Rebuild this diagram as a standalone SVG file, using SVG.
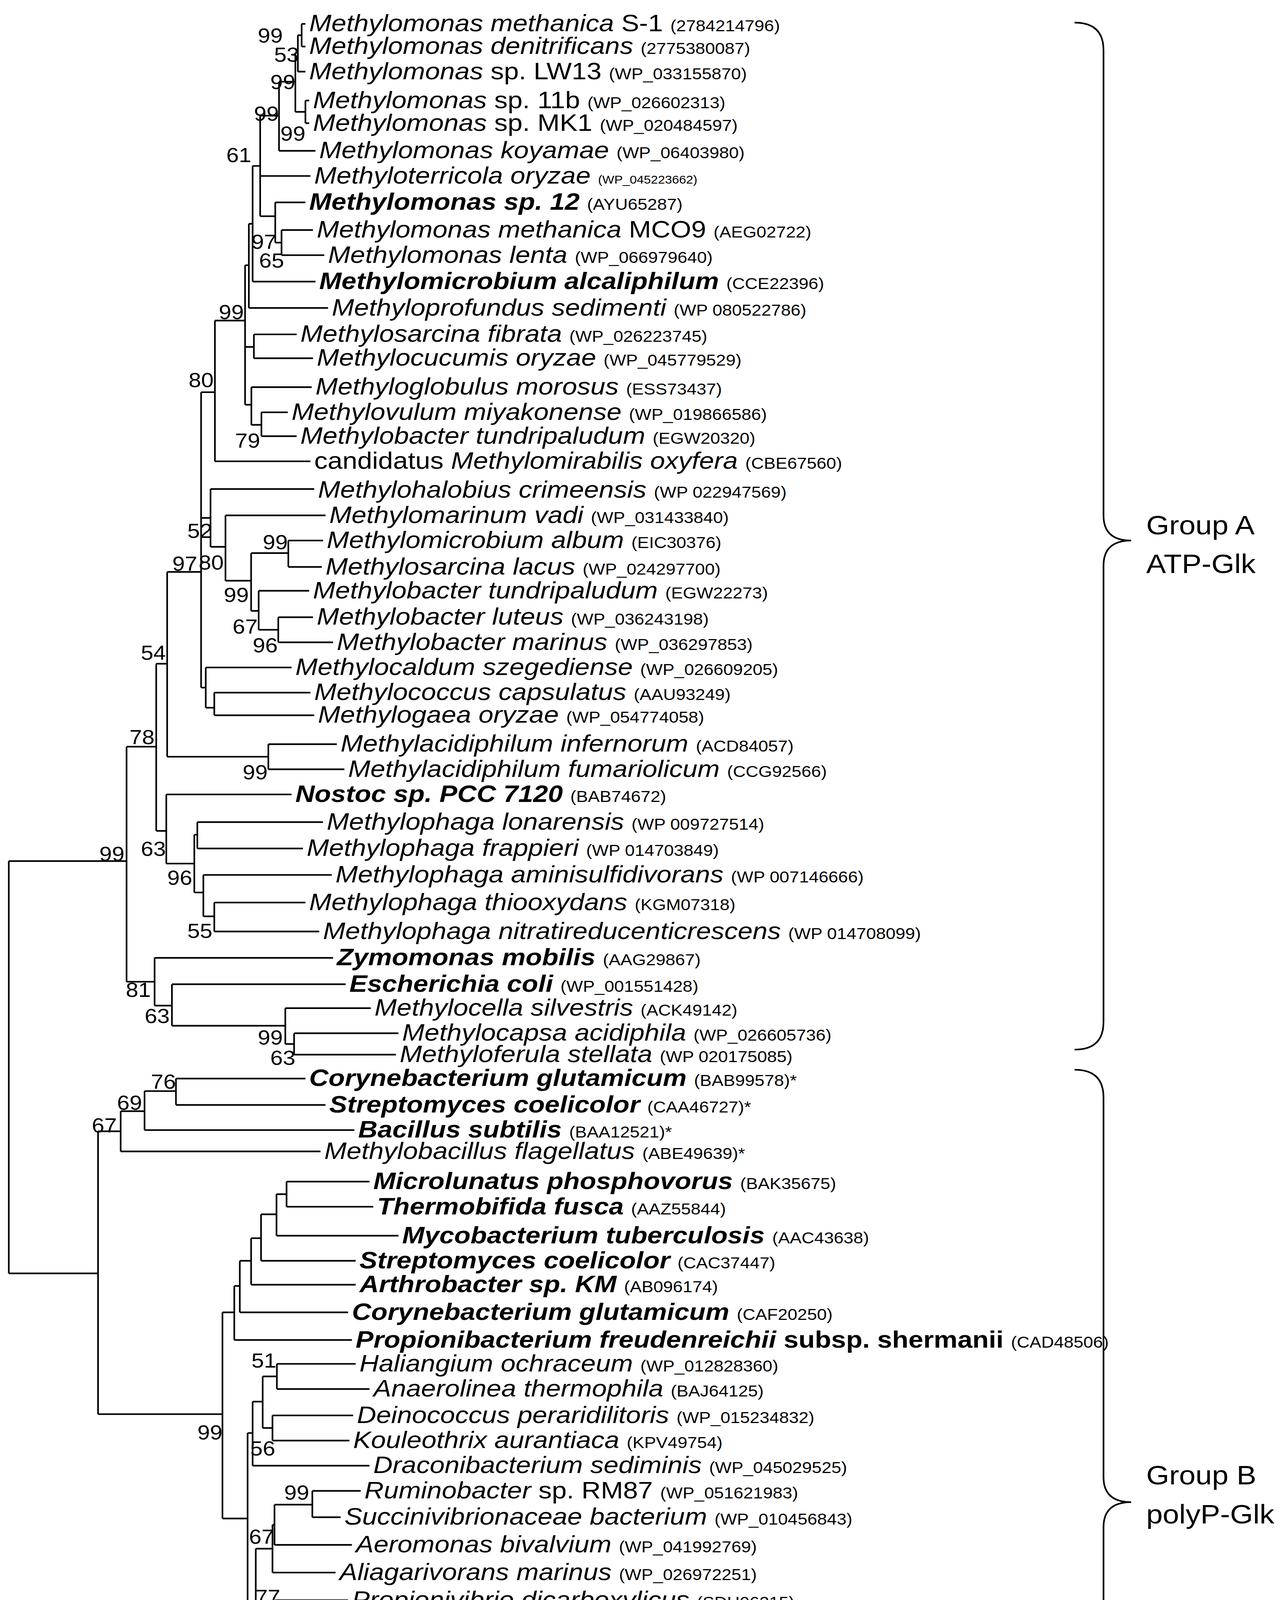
<svg xmlns="http://www.w3.org/2000/svg" width="3294" height="5046" viewBox="0 0 3294 5046">
<style>
text{font-family:"Liberation Sans",Arial,sans-serif;fill:#000;transform-box:fill-box;transform-origin:0% 50%;transform:scaleX(1.12)}
.t{font-size:19px}
.i{font-style:italic}
.bi{font-style:italic;font-weight:bold}
.a{font-size:12.5px;font-style:normal;font-weight:normal}
.bs{font-size:16px;text-anchor:end;transform-origin:100% 50%}
.g{font-size:21px}
.ln{fill:none;stroke:#000;stroke-width:1.3}
</style>
<rect width="3294" height="5046" fill="#fff"/>
<g transform="scale(3.2168,3.218)">
<g id="connectors" class="ln">
<path d="M240 19V37M240 19H243M240 37H243M237 28V57M237 28H240M237 57H243M243 80V98M243 80H246M243 98H246M235 42V89M235 42H237M235 89H243M222 65V120M222 65H235M222 120H251M207 92V172M207 92H222M207 140H247M207 172H219M219 161V193M219 161H243M219 193H224M224 183V203M224 183H249M224 203H258M201 132V224M201 132H207M201 224H251M198 178V245M198 178H201M198 245H261M195 211V322M195 211H198M195 276H202M195 322H200M202 266V285M202 266H236M202 285H249M200 308V338M200 308H248M200 338H208M208 328V347M208 328H229M208 347H236M171 255V367M171 255H195M171 367H247"/>
<path d="M160 312V547M160 312H171M167.5 389V435M167.5 389H250M167.5 435H179.4M160 412H167.5M179.4 410V462M179.4 410H259M179.4 462H199.8M199.8 440V486M199.8 440H229.4M199.8 486H205.8M229.4 430V451M229.4 430H257M229.4 451H256M205.8 470V501M205.8 470H246M205.8 501H221.4M221.4 491V511M221.4 491H249M221.4 511H265M163.7 531V563M163.7 531H232M163.7 563H170.5M160 547H163.7M170.5 551V569M170.5 551H247M170.5 569H250"/>
<path d="M133 455V602M133 455H160M133 602H213.5M213.5 592V612M213.5 592H268M213.5 612H274M124.3 528V661M124.3 528H133M124.3 661H132.3M132.3 632V687M132.3 632H232M132.3 687H154.6M154.6 664V710M154.6 664H157M154.6 710H161.8M157 654V675M157 654H257M157 675H241M161.8 696V729M161.8 696H264M161.8 729H170.5M170.5 718V741M170.5 718H243M170.5 741H254M100.7 594V781M100.7 594H124.3M100.7 781H123M123 762V800M123 762H265M123 800H136.8M136.8 783V816M136.8 783H275M136.8 816H227M227 802V830.5M227 802H295M227 830.5H234M234 822V839M234 822H317M234 839H315M7 685V1013M7 685H100.7M7 1013H78"/>
<path d="M140 858V879M140 858H243M140 879H259M115 868V899M115 868H140M115 899H282M96 884V916M96 884H115M96 916H255M78 900V1125M78 900H96M78 1125H177M177 1044V1208M228 940V960M228 940H294M228 960H297M220 950V983M220 950H228M220 983H317M207.7 966V1003M207.7 966H220M207.7 1003H283M199.8 985V1022M199.8 985H207.7M199.8 1022H283M190.8 1003V1044M190.8 1003H199.8M190.8 1044H277M186.4 1023V1066M186.4 1023H190.8M186.4 1066H280M177 1044H186.4M177 1208H197"/>
<path d="M197 1140V1276M197 1140H201M197 1276H203.5M209 1095V1136M209 1095H220.3M209 1136H216.8M220.3 1085V1105M220.3 1085H283M220.3 1105H294M216.8 1126V1146M216.8 1126H281M216.8 1146H278M201 1115V1166M201 1115H209M201 1166H294M248.5 1186V1207M248.5 1186H287M248.5 1207H271M218.4 1197V1229M218.4 1197H248.5M218.4 1229H280M216.8 1213V1251M216.8 1213H218.4M216.8 1251H267M203.5 1232V1323M203.5 1232H216.8M203.5 1323H207M219 1273V1294M219 1273H277M219 1294H277M207 1283V1371M207 1283H219M207 1371H230M230 1315V1427M230 1315H259M230 1427H239M251.7 1342V1364M251.7 1342H274M251.7 1364H289M248 1353V1388M248 1353H251.7M248 1388H273M242.6 1370V1408M242.6 1370H248M242.6 1408H270M239 1389V1466M239 1389H242.6M239 1466H251.3M260.3 1431V1452M260.3 1431H265M260.3 1452H263M256 1494V1518M256 1494H260M256 1518H260M253.7 1473V1506M253.7 1473H265M253.7 1506H256M251.3 1441V1489M251.3 1441H260.3M251.3 1489H253.7"/>
<path d="M45 1539V1545H105V1539"/>
</g>
<g id="brackets" class="ln">
<path d="M855 18Q878 18 878 40V410Q878 430 900 430Q878 430 878 450V813Q878 835 855 835"/>
<path d="M855 851Q878 851 878 873V1175Q878 1195 900 1195Q878 1195 878 1215V1543Q878 1565 855 1565"/>
</g>
<g id="groups">
<text class="g" x="912" y="425">Group A</text>
<text class="g" x="912" y="456">ATP-Glk</text>
<text class="g" x="912" y="1181">Group B</text>
<text class="g" x="912" y="1212">polyP-Glk</text>
<text class="t" x="66" y="1563">0.2</text>
</g>
<g id="bootstrap">
<text class="bs" x="225" y="34">99</text><text class="bs" x="238" y="49">53</text><text class="bs" x="235" y="71">99</text><text class="bs" x="222" y="96">99</text><text class="bs" x="243" y="112">99</text><text class="bs" x="200" y="129">61</text><text class="bs" x="220" y="198">97</text><text class="bs" x="226" y="213">65</text><text class="bs" x="194" y="254">99</text><text class="bs" x="170" y="308">80</text><text class="bs" x="207" y="356">79</text><text class="bs" x="169" y="428">52</text><text class="bs" x="157" y="454">97</text><text class="bs" x="178" y="453">80</text><text class="bs" x="229" y="437">99</text><text class="bs" x="198" y="479">99</text><text class="bs" x="205" y="504">67</text><text class="bs" x="221" y="519">96</text><text class="bs" x="132" y="525">54</text><text class="bs" x="123" y="592">78</text><text class="bs" x="213" y="620">99</text><text class="bs" x="132" y="681">63</text><text class="bs" x="99" y="685">99</text><text class="bs" x="153" y="704">96</text><text class="bs" x="169" y="746">55</text><text class="bs" x="120" y="793">81</text><text class="bs" x="135" y="814">63</text><text class="bs" x="225" y="831">99</text><text class="bs" x="235" y="847">63</text><text class="bs" x="140" y="866">76</text><text class="bs" x="113" y="883">69</text><text class="bs" x="93" y="901">67</text><text class="bs" x="220" y="1088">51</text><text class="bs" x="177" y="1145">99</text><text class="bs" x="219" y="1158">56</text><text class="bs" x="246" y="1193">99</text><text class="bs" x="218" y="1228">67</text><text class="bs" x="223" y="1276">77</text><text class="bs" x="228" y="1387">92</text><text class="bs" x="261" y="1437">99</text><text class="bs" x="239" y="1446">85</text><text class="bs" x="252" y="1481">93</text><text class="bs" x="254" y="1504">62</text><text class="bs" x="257" y="1523">94</text>
</g>
<g id="leaves" class="t">
<g id="l1"><text x="246" y="25"><tspan class="i">Methylomonas methanica</tspan> S-1 <tspan class="a">(2784214796)</tspan></text></g>
<g id="l2"><text x="246" y="43"><tspan class="i">Methylomonas denitrificans</tspan> <tspan class="a">(2775380087)</tspan></text></g>
<g id="l3"><text x="246" y="63"><tspan class="i">Methylomonas</tspan> sp. LW13 <tspan class="a">(WP_033155870)</tspan></text></g>
<g id="l4"><text x="249" y="86"><tspan class="i">Methylomonas</tspan> sp. 11b <tspan class="a">(WP_026602313)</tspan></text></g>
<g id="l5"><text x="249" y="104"><tspan class="i">Methylomonas</tspan> sp. MK1 <tspan class="a">(WP_020484597)</tspan></text></g>
<g id="l6"><text x="254" y="126"><tspan class="i">Methylomonas koyamae</tspan> <tspan class="a">(WP_06403980)</tspan></text></g>
<g id="l7"><text x="250" y="146"><tspan class="i">Methyloterricola oryzae</tspan> <tspan class="a" style="font-size:9px">(WP_045223662)</tspan></text></g>
<g id="l8"><text x="246" y="167"><tspan class="bi">Methylomonas sp. 12</tspan> <tspan class="a">(AYU65287)</tspan></text></g>
<g id="l9"><text x="252" y="189"><tspan class="i">Methylomonas methanica</tspan> MCO9 <tspan class="a">(AEG02722)</tspan></text></g>
<g id="l10"><text x="261" y="209"><tspan class="i">Methylomonas lenta</tspan> <tspan class="a">(WP_066979640)</tspan></text></g>
<g id="l11"><text x="254" y="230"><tspan class="bi">Methylomicrobium alcaliphilum</tspan> <tspan class="a">(CCE22396)</tspan></text></g>
<g id="l12"><text x="264" y="251"><tspan class="i">Methyloprofundus sedimenti</tspan> <tspan class="a">(WP 080522786)</tspan></text></g>
<g id="l13"><text x="239" y="272"><tspan class="i">Methylosarcina fibrata</tspan> <tspan class="a">(WP_026223745)</tspan></text></g>
<g id="l14"><text x="252" y="291"><tspan class="i">Methylocucumis oryzae</tspan> <tspan class="a">(WP_045779529)</tspan></text></g>
<g id="l15"><text x="251" y="314"><tspan class="i">Methyloglobulus morosus</tspan> <tspan class="a">(ESS73437)</tspan></text></g>
<g id="l16"><text x="232" y="334"><tspan class="i">Methylovulum miyakonense</tspan> <tspan class="a">(WP_019866586)</tspan></text></g>
<g id="l17"><text x="239" y="353"><tspan class="i">Methylobacter tundripaludum</tspan> <tspan class="a">(EGW20320)</tspan></text></g>
<g id="l18"><text x="250" y="373">candidatus <tspan class="i">Methylomirabilis oxyfera</tspan> <tspan class="a">(CBE67560)</tspan></text></g>
<g id="l19"><text x="253" y="396"><tspan class="i">Methylohalobius crimeensis</tspan> <tspan class="a">(WP 022947569)</tspan></text></g>
<g id="l20"><text x="262" y="416"><tspan class="i">Methylomarinum vadi</tspan> <tspan class="a">(WP_031433840)</tspan></text></g>
<g id="l21"><text x="260" y="436"><tspan class="i">Methylomicrobium album</tspan> <tspan class="a">(EIC30376)</tspan></text></g>
<g id="l22"><text x="259" y="457"><tspan class="i">Methylosarcina lacus</tspan> <tspan class="a">(WP_024297700)</tspan></text></g>
<g id="l23"><text x="249" y="476"><tspan class="i">Methylobacter tundripaludum</tspan> <tspan class="a">(EGW22273)</tspan></text></g>
<g id="l24"><text x="252" y="497"><tspan class="i">Methylobacter luteus</tspan> <tspan class="a">(WP_036243198)</tspan></text></g>
<g id="l25"><text x="268" y="517"><tspan class="i">Methylobacter marinus</tspan> <tspan class="a">(WP_036297853)</tspan></text></g>
<g id="l26"><text x="235" y="537"><tspan class="i">Methylocaldum szegediense</tspan> <tspan class="a">(WP_026609205)</tspan></text></g>
<g id="l27"><text x="250" y="557"><tspan class="i">Methylococcus capsulatus</tspan> <tspan class="a">(AAU93249)</tspan></text></g>
<g id="l28"><text x="253" y="575"><tspan class="i">Methylogaea oryzae</tspan> <tspan class="a">(WP_054774058)</tspan></text></g>
<g id="l29"><text x="271" y="598"><tspan class="i">Methylacidiphilum infernorum</tspan> <tspan class="a">(ACD84057)</tspan></text></g>
<g id="l30"><text x="277" y="618"><tspan class="i">Methylacidiphilum fumariolicum</tspan> <tspan class="a">(CCG92566)</tspan></text></g>
<g id="l31"><text x="235" y="638"><tspan class="bi">Nostoc sp. PCC 7120</tspan> <tspan class="a">(BAB74672)</tspan></text></g>
<g id="l32"><text x="260" y="660"><tspan class="i">Methylophaga lonarensis</tspan> <tspan class="a">(WP 009727514)</tspan></text></g>
<g id="l33"><text x="244" y="681"><tspan class="i">Methylophaga frappieri</tspan> <tspan class="a">(WP 014703849)</tspan></text></g>
<g id="l34"><text x="267" y="702"><tspan class="i">Methylophaga aminisulfidivorans</tspan> <tspan class="a">(WP 007146666)</tspan></text></g>
<g id="l35"><text x="246" y="724"><tspan class="i">Methylophaga thiooxydans</tspan> <tspan class="a">(KGM07318)</tspan></text></g>
<g id="l36"><text x="257" y="747"><tspan class="i">Methylophaga nitratireducenticrescens</tspan> <tspan class="a">(WP 014708099)</tspan></text></g>
<g id="l37"><text x="268" y="768"><tspan class="bi">Zymomonas mobilis</tspan> <tspan class="a">(AAG29867)</tspan></text></g>
<g id="l38"><text x="278" y="789"><tspan class="bi">Escherichia coli</tspan> <tspan class="a">(WP_001551428)</tspan></text></g>
<g id="l39"><text x="298" y="808"><tspan class="i">Methylocella silvestris</tspan> <tspan class="a">(ACK49142)</tspan></text></g>
<g id="l40"><text x="320" y="828"><tspan class="i">Methylocapsa acidiphila</tspan> <tspan class="a">(WP_026605736)</tspan></text></g>
<g id="l41"><text x="318" y="845"><tspan class="i">Methyloferula stellata</tspan> <tspan class="a">(WP 020175085)</tspan></text></g>
<g id="l42"><text x="246" y="864"><tspan class="bi">Corynebacterium glutamicum</tspan> <tspan class="a">(BAB99578)*</tspan></text></g>
<g id="l43"><text x="262" y="885"><tspan class="bi">Streptomyces coelicolor</tspan> <tspan class="a">(CAA46727)*</tspan></text></g>
<g id="l44"><text x="285" y="905"><tspan class="bi">Bacillus subtilis</tspan> <tspan class="a">(BAA12521)*</tspan></text></g>
<g id="l45"><text x="258" y="922"><tspan class="i">Methylobacillus flagellatus</tspan> <tspan class="a">(ABE49639)*</tspan></text></g>
<g id="l46"><text x="297" y="946"><tspan class="bi">Microlunatus phosphovorus</tspan> <tspan class="a">(BAK35675)</tspan></text></g>
<g id="l47"><text x="300" y="966"><tspan class="bi">Thermobifida fusca</tspan> <tspan class="a">(AAZ55844)</tspan></text></g>
<g id="l48"><text x="320" y="989"><tspan class="bi">Mycobacterium tuberculosis</tspan> <tspan class="a">(AAC43638)</tspan></text></g>
<g id="l49"><text x="286" y="1009"><tspan class="bi">Streptomyces coelicolor</tspan> <tspan class="a">(CAC37447)</tspan></text></g>
<g id="l50"><text x="286" y="1028"><tspan class="bi">Arthrobacter sp. KM</tspan> <tspan class="a">(AB096174)</tspan></text></g>
<g id="l51"><text x="280" y="1050"><tspan class="bi">Corynebacterium glutamicum</tspan> <tspan class="a">(CAF20250)</tspan></text></g>
<g id="l52"><text x="283" y="1072"><tspan class="bi">Propionibacterium freudenreichii</tspan><tspan font-weight="bold"> subsp. shermanii</tspan> <tspan class="a">(CAD48506)</tspan></text></g>
<g id="l53"><text x="286" y="1091"><tspan class="i">Haliangium ochraceum</tspan> <tspan class="a">(WP_012828360)</tspan></text></g>
<g id="l54"><text x="297" y="1111"><tspan class="i">Anaerolinea thermophila</tspan> <tspan class="a">(BAJ64125)</tspan></text></g>
<g id="l55"><text x="284" y="1132"><tspan class="i">Deinococcus peraridilitoris</tspan> <tspan class="a">(WP_015234832)</tspan></text></g>
<g id="l56"><text x="281" y="1152"><tspan class="i">Kouleothrix aurantiaca</tspan> <tspan class="a">(KPV49754)</tspan></text></g>
<g id="l57"><text x="297" y="1172"><tspan class="i">Draconibacterium sediminis</tspan> <tspan class="a">(WP_045029525)</tspan></text></g>
<g id="l58"><text x="290" y="1192"><tspan class="i">Ruminobacter</tspan> sp. RM87 <tspan class="a">(WP_051621983)</tspan></text></g>
<g id="l59"><text x="274" y="1213"><tspan class="i">Succinivibrionaceae bacterium</tspan> <tspan class="a">(WP_010456843)</tspan></text></g>
<g id="l60"><text x="283" y="1235"><tspan class="i">Aeromonas bivalvium</tspan> <tspan class="a">(WP_041992769)</tspan></text></g>
<g id="l61"><text x="270" y="1257"><tspan class="i">Aliagarivorans marinus</tspan> <tspan class="a">(WP_026972251)</tspan></text></g>
<g id="l62"><text x="280" y="1279"><tspan class="i">Propionivibrio dicarboxylicus</tspan> <tspan class="a">(SDH06215)</tspan></text></g>
<g id="l63"><text x="280" y="1300"><tspan class="i">Uliginosibacterium gangwonense</tspan> <tspan class="a">(WP 026259445)</tspan></text></g>
<g id="l64"><text x="262" y="1321"><tspan class="i">Methylomarinum vadi</tspan> <tspan class="a">(WP 031433600)</tspan></text></g>
<g id="l65"><text x="277" y="1348"><tspan class="i">Methylomonas lenta</tspan> <tspan class="a">(WP_066987295)</tspan></text></g>
<g id="l66"><text x="292" y="1370"><tspan class="i">Methylomonas koyamae</tspan> <tspan class="a">(WP_064042450)</tspan></text></g>
<g id="l67"><text x="276" y="1394"><tspan class="i">Methylomonas methanica</tspan> MCO9 <tspan class="a">(AEG02084)</tspan></text></g>
<g id="l68"><text x="273" y="1414"><tspan class="bi">Methylomonas sp.12</tspan> <tspan class="a">(AYU65286)</tspan></text></g>
<g id="l69"><text x="268" y="1437"><tspan class="i">Methylomonas methanica</tspan> S-1 <tspan class="a">(2784214405)</tspan></text></g>
<g id="l70"><text x="266" y="1458"><tspan class="i">Methylomonas denitrificans</tspan> <tspan class="a">(2775377481)</tspan></text></g>
<g id="l71"><text x="268" y="1479"><tspan class="i">Methylomonas</tspan> sp. LW13 <tspan class="a">(WP_033155439)</tspan></text></g>
<g id="l72"><text x="263" y="1500"><tspan class="i">Methylomonas</tspan> sp. 11b <tspan class="a">(WP_036278163)</tspan></text></g>
<g id="l73"><text x="263" y="1524"><tspan class="i">Methylomonas</tspan> sp. MK1 <tspan class="a">(WP_026147229)</tspan></text></g>
</g>
</g>
</svg>
